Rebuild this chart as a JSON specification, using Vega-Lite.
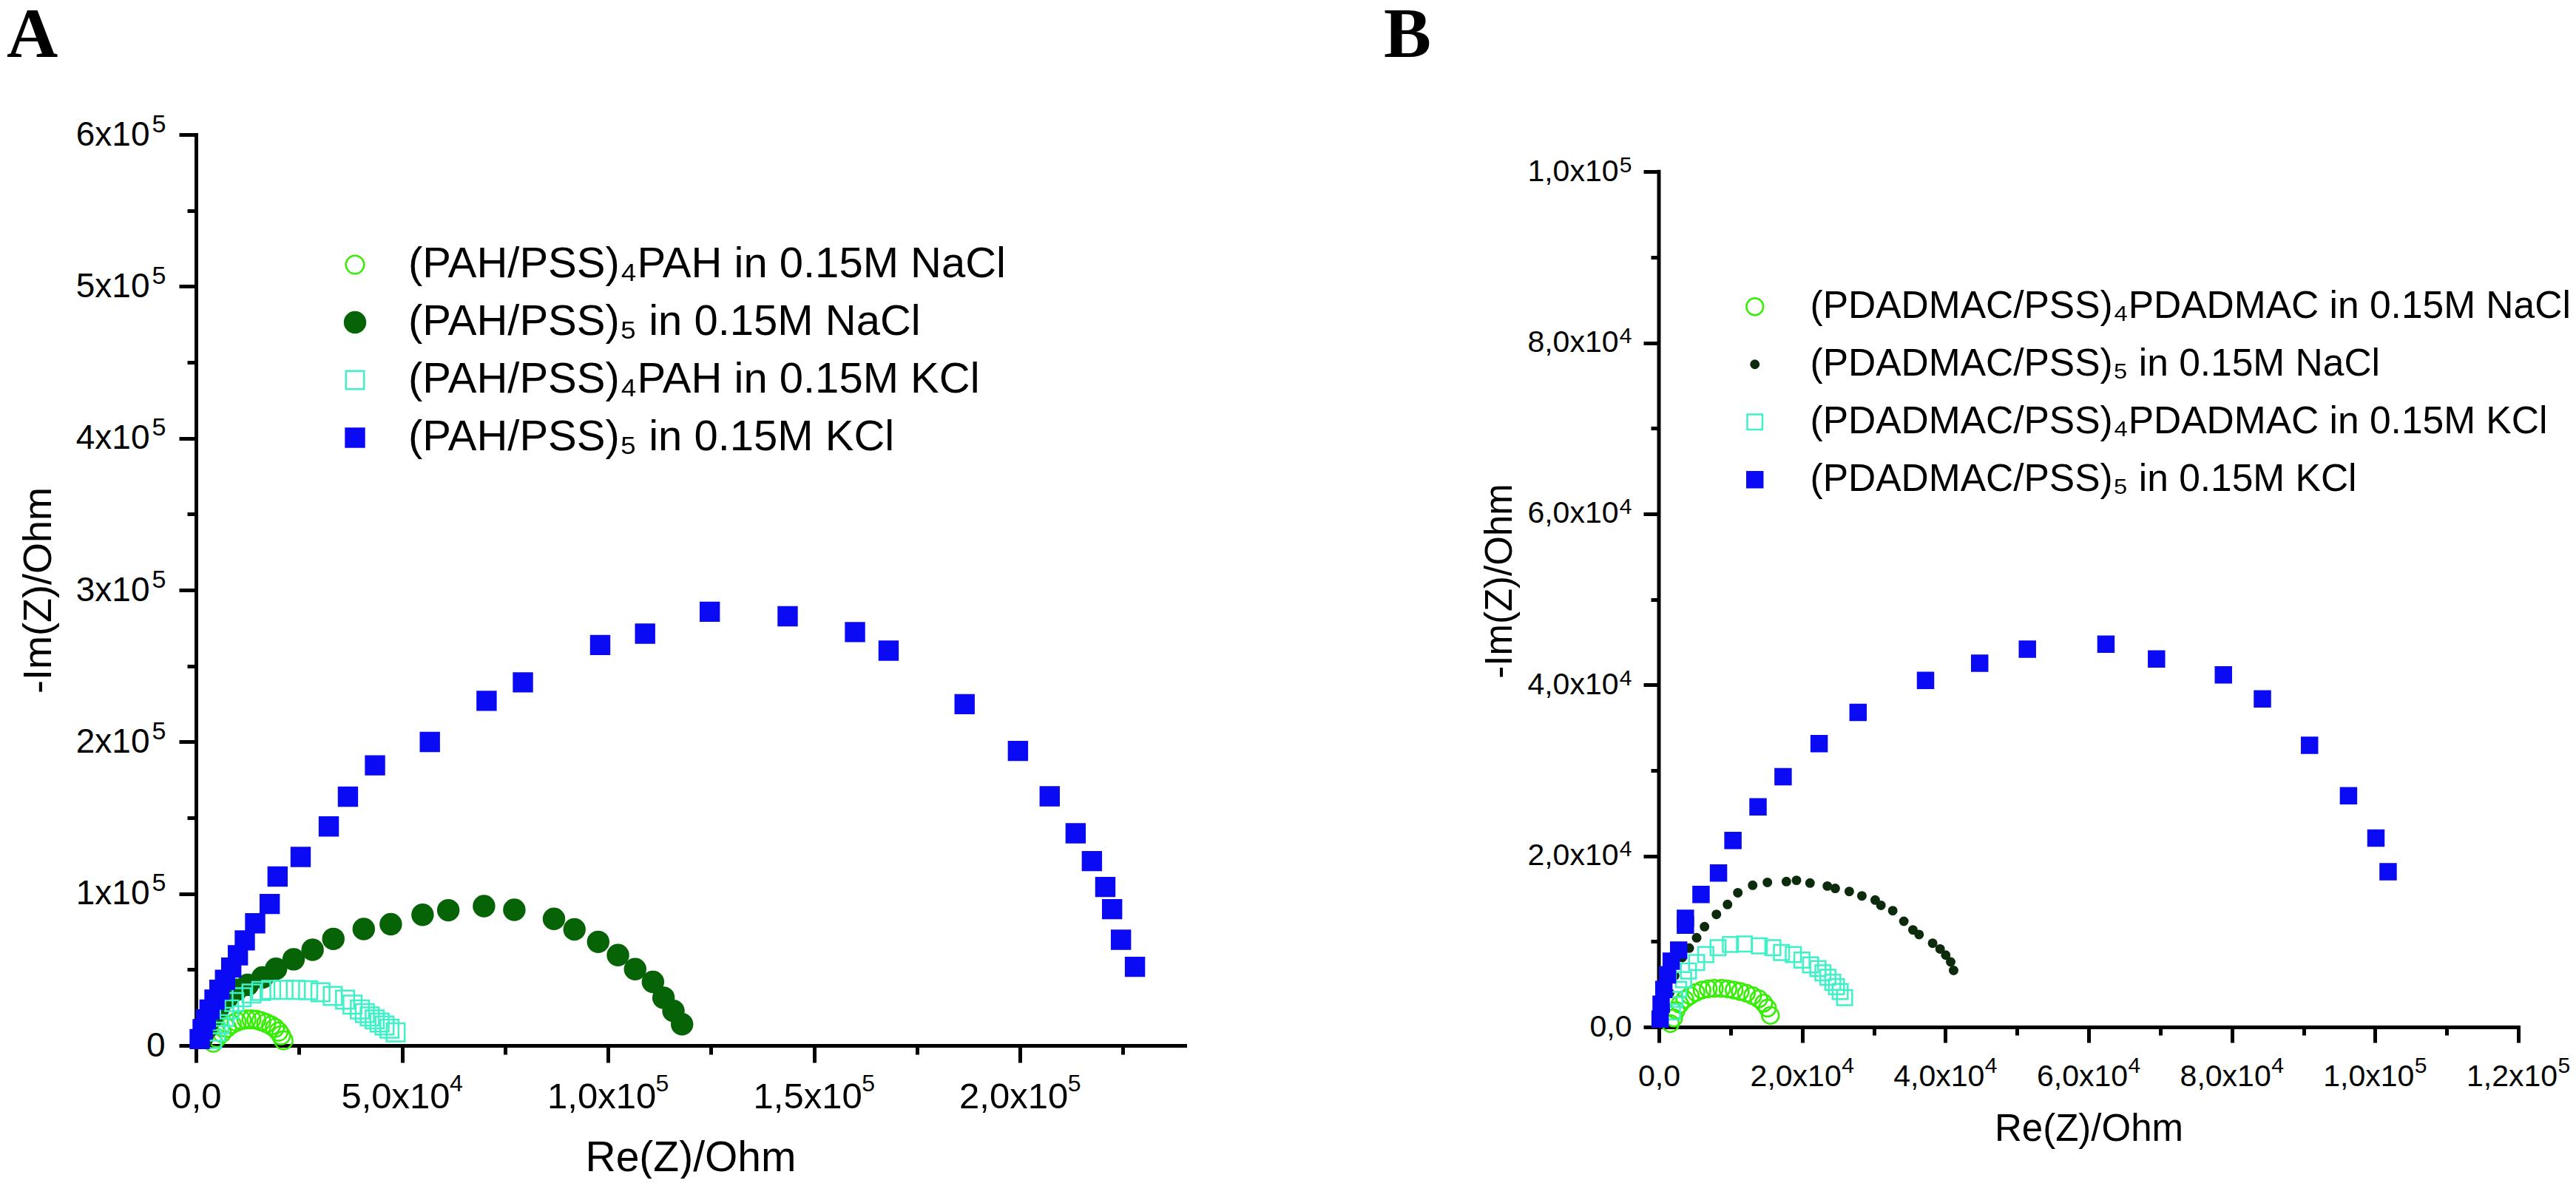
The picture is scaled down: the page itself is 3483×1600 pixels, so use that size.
{
  "$schema": "https://vega.github.io/schema/vega-lite/v6.json",
  "background": "white",
  "padding": {"left": 9, "top": 0, "right": 0, "bottom": 0},
  "config": {
    "view": {"stroke": null},
    "font": "Liberation Sans",
    "axis": {"grid": false, "domainColor": "black", "domainWidth": 5, "domainCap": "square", "tickColor": "black", "tickWidth": 5, "labelColor": "black", "titleColor": "black", "labelFont": "Liberation Sans", "titleFont": "Liberation Sans", "titleFontWeight": "normal", "labelFlush": false, "labelOverlap": false},
    "legend": {"padding": 0, "labelColor": "black", "labelFont": "Liberation Sans", "labelLimit": 3000, "symbolStrokeWidth": 2.5}
  },
  "resolve": {
    "scale": {"shape": "independent", "fill": "independent", "stroke": "independent", "size": "independent"},
    "legend": {"shape": "independent", "fill": "independent", "stroke": "independent", "size": "independent"}
  },
  "datasets": {
    "a": [
      {"s":"(PAH/PSS)\u2084PAH in 0.15M NaCl","re":4180,"im":1800},
      {"s":"(PAH/PSS)\u2084PAH in 0.15M NaCl","re":5080,"im":5020},
      {"s":"(PAH/PSS)\u2084PAH in 0.15M NaCl","re":6280,"im":8280},
      {"s":"(PAH/PSS)\u2084PAH in 0.15M NaCl","re":7480,"im":11540},
      {"s":"(PAH/PSS)\u2084PAH in 0.15M NaCl","re":8670,"im":13980},
      {"s":"(PAH/PSS)\u2084PAH in 0.15M NaCl","re":9870,"im":15590},
      {"s":"(PAH/PSS)\u2084PAH in 0.15M NaCl","re":11070,"im":16710},
      {"s":"(PAH/PSS)\u2084PAH in 0.15M NaCl","re":12260,"im":17200},
      {"s":"(PAH/PSS)\u2084PAH in 0.15M NaCl","re":13460,"im":17200},
      {"s":"(PAH/PSS)\u2084PAH in 0.15M NaCl","re":14660,"im":16900},
      {"s":"(PAH/PSS)\u2084PAH in 0.15M NaCl","re":15850,"im":15930},
      {"s":"(PAH/PSS)\u2084PAH in 0.15M NaCl","re":17050,"im":14760},
      {"s":"(PAH/PSS)\u2084PAH in 0.15M NaCl","re":18250,"im":13150},
      {"s":"(PAH/PSS)\u2084PAH in 0.15M NaCl","re":19150,"im":11540},
      {"s":"(PAH/PSS)\u2084PAH in 0.15M NaCl","re":20040,"im":9110},
      {"s":"(PAH/PSS)\u2084PAH in 0.15M NaCl","re":20640,"im":6660},
      {"s":"(PAH/PSS)\u2084PAH in 0.15M NaCl","re":21240,"im":3410},
      {"s":"(PAH/PSS)\u2085 in 0.15M NaCl","re":1500,"im":5000},
      {"s":"(PAH/PSS)\u2085 in 0.15M NaCl","re":2500,"im":11000},
      {"s":"(PAH/PSS)\u2085 in 0.15M NaCl","re":3800,"im":18000},
      {"s":"(PAH/PSS)\u2085 in 0.15M NaCl","re":5500,"im":25000},
      {"s":"(PAH/PSS)\u2085 in 0.15M NaCl","re":7500,"im":31000},
      {"s":"(PAH/PSS)\u2085 in 0.15M NaCl","re":9870,"im":36700},
      {"s":"(PAH/PSS)\u2085 in 0.15M NaCl","re":12560,"im":39940},
      {"s":"(PAH/PSS)\u2085 in 0.15M NaCl","re":16150,"im":44800},
      {"s":"(PAH/PSS)\u2085 in 0.15M NaCl","re":19430,"im":50500},
      {"s":"(PAH/PSS)\u2085 in 0.15M NaCl","re":23700,"im":56800},
      {"s":"(PAH/PSS)\u2085 in 0.15M NaCl","re":28300,"im":63100},
      {"s":"(PAH/PSS)\u2085 in 0.15M NaCl","re":33340,"im":70200},
      {"s":"(PAH/PSS)\u2085 in 0.15M NaCl","re":40710,"im":76700},
      {"s":"(PAH/PSS)\u2085 in 0.15M NaCl","re":47280,"im":79900},
      {"s":"(PAH/PSS)\u2085 in 0.15M NaCl","re":55000,"im":86100},
      {"s":"(PAH/PSS)\u2085 in 0.15M NaCl","re":61240,"im":89080},
      {"s":"(PAH/PSS)\u2085 in 0.15M NaCl","re":69900,"im":91810},
      {"s":"(PAH/PSS)\u2085 in 0.15M NaCl","re":77260,"im":89350},
      {"s":"(PAH/PSS)\u2085 in 0.15M NaCl","re":86880,"im":83380},
      {"s":"(PAH/PSS)\u2085 in 0.15M NaCl","re":91850,"im":76430},
      {"s":"(PAH/PSS)\u2085 in 0.15M NaCl","re":97620,"im":68250},
      {"s":"(PAH/PSS)\u2085 in 0.15M NaCl","re":102420,"im":59510},
      {"s":"(PAH/PSS)\u2085 in 0.15M NaCl","re":106590,"im":50320},
      {"s":"(PAH/PSS)\u2085 in 0.15M NaCl","re":110910,"im":41890},
      {"s":"(PAH/PSS)\u2085 in 0.15M NaCl","re":113480,"im":31470},
      {"s":"(PAH/PSS)\u2085 in 0.15M NaCl","re":115880,"im":22750},
      {"s":"(PAH/PSS)\u2085 in 0.15M NaCl","re":117970,"im":14030},
      {"s":"(PAH/PSS)\u2084PAH in 0.15M KCl","re":3890,"im":4240},
      {"s":"(PAH/PSS)\u2084PAH in 0.15M KCl","re":4790,"im":9110},
      {"s":"(PAH/PSS)\u2084PAH in 0.15M KCl","re":5690,"im":13980},
      {"s":"(PAH/PSS)\u2084PAH in 0.15M KCl","re":6870,"im":18850},
      {"s":"(PAH/PSS)\u2084PAH in 0.15M KCl","re":8080,"im":23720},
      {"s":"(PAH/PSS)\u2084PAH in 0.15M KCl","re":9280,"im":28590},
      {"s":"(PAH/PSS)\u2084PAH in 0.15M KCl","re":11070,"im":31810},
      {"s":"(PAH/PSS)\u2084PAH in 0.15M KCl","re":13460,"im":34240},
      {"s":"(PAH/PSS)\u2084PAH in 0.15M KCl","re":15850,"im":35900},
      {"s":"(PAH/PSS)\u2084PAH in 0.15M KCl","re":18250,"im":36700},
      {"s":"(PAH/PSS)\u2084PAH in 0.15M KCl","re":21230,"im":36700},
      {"s":"(PAH/PSS)\u2084PAH in 0.15M KCl","re":24230,"im":36700},
      {"s":"(PAH/PSS)\u2084PAH in 0.15M KCl","re":27220,"im":36380},
      {"s":"(PAH/PSS)\u2084PAH in 0.15M KCl","re":30210,"im":35070},
      {"s":"(PAH/PSS)\u2084PAH in 0.15M KCl","re":33200,"im":32640},
      {"s":"(PAH/PSS)\u2084PAH in 0.15M KCl","re":36190,"im":30200},
      {"s":"(PAH/PSS)\u2084PAH in 0.15M KCl","re":37990,"im":26960},
      {"s":"(PAH/PSS)\u2084PAH in 0.15M KCl","re":39780,"im":23720},
      {"s":"(PAH/PSS)\u2084PAH in 0.15M KCl","re":40970,"im":21290},
      {"s":"(PAH/PSS)\u2084PAH in 0.15M KCl","re":42170,"im":19150},
      {"s":"(PAH/PSS)\u2084PAH in 0.15M KCl","re":43370,"im":17200},
      {"s":"(PAH/PSS)\u2084PAH in 0.15M KCl","re":44560,"im":15100},
      {"s":"(PAH/PSS)\u2084PAH in 0.15M KCl","re":45760,"im":13150},
      {"s":"(PAH/PSS)\u2084PAH in 0.15M KCl","re":46960,"im":11060},
      {"s":"(PAH/PSS)\u2084PAH in 0.15M KCl","re":48460,"im":8620},
      {"s":"(PAH/PSS)\u2085 in 0.15M KCl","re":900,"im":4200},
      {"s":"(PAH/PSS)\u2085 in 0.15M KCl","re":1620,"im":10700},
      {"s":"(PAH/PSS)\u2085 in 0.15M KCl","re":2390,"im":17200},
      {"s":"(PAH/PSS)\u2085 in 0.15M KCl","re":3290,"im":23700},
      {"s":"(PAH/PSS)\u2085 in 0.15M KCl","re":4490,"im":30200},
      {"s":"(PAH/PSS)\u2085 in 0.15M KCl","re":5690,"im":36700},
      {"s":"(PAH/PSS)\u2085 in 0.15M KCl","re":7050,"im":43200},
      {"s":"(PAH/PSS)\u2085 in 0.15M KCl","re":8560,"im":51300},
      {"s":"(PAH/PSS)\u2085 in 0.15M KCl","re":10170,"im":59400},
      {"s":"(PAH/PSS)\u2085 in 0.15M KCl","re":11850,"im":69200},
      {"s":"(PAH/PSS)\u2085 in 0.15M KCl","re":14360,"im":80500},
      {"s":"(PAH/PSS)\u2085 in 0.15M KCl","re":17890,"im":93200},
      {"s":"(PAH/PSS)\u2085 in 0.15M KCl","re":19800,"im":111300},
      {"s":"(PAH/PSS)\u2085 in 0.15M KCl","re":25400,"im":124200},
      {"s":"(PAH/PSS)\u2085 in 0.15M KCl","re":32230,"im":144300},
      {"s":"(PAH/PSS)\u2085 in 0.15M KCl","re":36880,"im":163900},
      {"s":"(PAH/PSS)\u2085 in 0.15M KCl","re":43450,"im":184500},
      {"s":"(PAH/PSS)\u2085 in 0.15M KCl","re":56760,"im":199950},
      {"s":"(PAH/PSS)\u2085 in 0.15M KCl","re":70530,"im":227000},
      {"s":"(PAH/PSS)\u2085 in 0.15M KCl","re":79350,"im":239200},
      {"s":"(PAH/PSS)\u2085 in 0.15M KCl","re":98100,"im":263800},
      {"s":"(PAH/PSS)\u2085 in 0.15M KCl","re":109000,"im":271300},
      {"s":"(PAH/PSS)\u2085 in 0.15M KCl","re":124700,"im":285700},
      {"s":"(PAH/PSS)\u2085 in 0.15M KCl","re":143600,"im":282700},
      {"s":"(PAH/PSS)\u2085 in 0.15M KCl","re":159950,"im":272300},
      {"s":"(PAH/PSS)\u2085 in 0.15M KCl","re":168100,"im":260100},
      {"s":"(PAH/PSS)\u2085 in 0.15M KCl","re":186550,"im":224800},
      {"s":"(PAH/PSS)\u2085 in 0.15M KCl","re":199500,"im":194000},
      {"s":"(PAH/PSS)\u2085 in 0.15M KCl","re":207200,"im":164150},
      {"s":"(PAH/PSS)\u2085 in 0.15M KCl","re":213500,"im":139800},
      {"s":"(PAH/PSS)\u2085 in 0.15M KCl","re":217450,"im":121450},
      {"s":"(PAH/PSS)\u2085 in 0.15M KCl","re":220700,"im":104400},
      {"s":"(PAH/PSS)\u2085 in 0.15M KCl","re":222350,"im":89800},
      {"s":"(PAH/PSS)\u2085 in 0.15M KCl","re":224500,"im":69650},
      {"s":"(PAH/PSS)\u2085 in 0.15M KCl","re":227900,"im":51800}
    ],
    "b": [
      {"s":"(PDADMAC/PSS)\u2084PDADMAC in 0.15M NaCl","re":1600,"im":400},
      {"s":"(PDADMAC/PSS)\u2084PDADMAC in 0.15M NaCl","re":2070,"im":1060},
      {"s":"(PDADMAC/PSS)\u2084PDADMAC in 0.15M NaCl","re":2410,"im":1930},
      {"s":"(PDADMAC/PSS)\u2084PDADMAC in 0.15M NaCl","re":2930,"im":2650},
      {"s":"(PDADMAC/PSS)\u2084PDADMAC in 0.15M NaCl","re":3620,"im":3230},
      {"s":"(PDADMAC/PSS)\u2084PDADMAC in 0.15M NaCl","re":4370,"im":3660},
      {"s":"(PDADMAC/PSS)\u2084PDADMAC in 0.15M NaCl","re":5170,"im":4030},
      {"s":"(PDADMAC/PSS)\u2084PDADMAC in 0.15M NaCl","re":6020,"im":4320},
      {"s":"(PDADMAC/PSS)\u2084PDADMAC in 0.15M NaCl","re":6890,"im":4460},
      {"s":"(PDADMAC/PSS)\u2084PDADMAC in 0.15M NaCl","re":7750,"im":4520},
      {"s":"(PDADMAC/PSS)\u2084PDADMAC in 0.15M NaCl","re":8780,"im":4520},
      {"s":"(PDADMAC/PSS)\u2084PDADMAC in 0.15M NaCl","re":9640,"im":4440},
      {"s":"(PDADMAC/PSS)\u2084PDADMAC in 0.15M NaCl","re":10500,"im":4320},
      {"s":"(PDADMAC/PSS)\u2084PDADMAC in 0.15M NaCl","re":11360,"im":4150},
      {"s":"(PDADMAC/PSS)\u2084PDADMAC in 0.15M NaCl","re":12220,"im":3940},
      {"s":"(PDADMAC/PSS)\u2084PDADMAC in 0.15M NaCl","re":13090,"im":3660},
      {"s":"(PDADMAC/PSS)\u2084PDADMAC in 0.15M NaCl","re":13950,"im":3290},
      {"s":"(PDADMAC/PSS)\u2084PDADMAC in 0.15M NaCl","re":14640,"im":2790},
      {"s":"(PDADMAC/PSS)\u2084PDADMAC in 0.15M NaCl","re":15150,"im":2210},
      {"s":"(PDADMAC/PSS)\u2084PDADMAC in 0.15M NaCl","re":15570,"im":1350},
      {"s":"(PDADMAC/PSS)\u2085 in 0.15M NaCl","re":900,"im":2000},
      {"s":"(PDADMAC/PSS)\u2085 in 0.15M NaCl","re":1500,"im":4000},
      {"s":"(PDADMAC/PSS)\u2085 in 0.15M NaCl","re":2200,"im":6000},
      {"s":"(PDADMAC/PSS)\u2085 in 0.15M NaCl","re":3270,"im":8130},
      {"s":"(PDADMAC/PSS)\u2085 in 0.15M NaCl","re":4240,"im":9220},
      {"s":"(PDADMAC/PSS)\u2085 in 0.15M NaCl","re":5270,"im":10430},
      {"s":"(PDADMAC/PSS)\u2085 in 0.15M NaCl","re":6370,"im":11730},
      {"s":"(PDADMAC/PSS)\u2085 in 0.15M NaCl","re":8030,"im":13170},
      {"s":"(PDADMAC/PSS)\u2085 in 0.15M NaCl","re":9580,"im":14320},
      {"s":"(PDADMAC/PSS)\u2085 in 0.15M NaCl","re":11020,"im":15700},
      {"s":"(PDADMAC/PSS)\u2085 in 0.15M NaCl","re":13090,"im":16570},
      {"s":"(PDADMAC/PSS)\u2085 in 0.15M NaCl","re":15150,"im":16910},
      {"s":"(PDADMAC/PSS)\u2085 in 0.15M NaCl","re":17800,"im":17000},
      {"s":"(PDADMAC/PSS)\u2085 in 0.15M NaCl","re":19210,"im":17150},
      {"s":"(PDADMAC/PSS)\u2085 in 0.15M NaCl","re":21100,"im":16830},
      {"s":"(PDADMAC/PSS)\u2085 in 0.15M NaCl","re":23520,"im":16480},
      {"s":"(PDADMAC/PSS)\u2085 in 0.15M NaCl","re":24620,"im":16200},
      {"s":"(PDADMAC/PSS)\u2085 in 0.15M NaCl","re":26580,"im":15850},
      {"s":"(PDADMAC/PSS)\u2085 in 0.15M NaCl","re":28340,"im":15330},
      {"s":"(PDADMAC/PSS)\u2085 in 0.15M NaCl","re":30200,"im":14840},
      {"s":"(PDADMAC/PSS)\u2085 in 0.15M NaCl","re":31000,"im":14230},
      {"s":"(PDADMAC/PSS)\u2085 in 0.15M NaCl","re":32650,"im":13600},
      {"s":"(PDADMAC/PSS)\u2085 in 0.15M NaCl","re":34200,"im":12360},
      {"s":"(PDADMAC/PSS)\u2085 in 0.15M NaCl","re":35470,"im":11350},
      {"s":"(PDADMAC/PSS)\u2085 in 0.15M NaCl","re":36330,"im":10810},
      {"s":"(PDADMAC/PSS)\u2085 in 0.15M NaCl","re":38220,"im":9800},
      {"s":"(PDADMAC/PSS)\u2085 in 0.15M NaCl","re":39260,"im":9130},
      {"s":"(PDADMAC/PSS)\u2085 in 0.15M NaCl","re":40050,"im":8410},
      {"s":"(PDADMAC/PSS)\u2085 in 0.15M NaCl","re":40740,"im":7610},
      {"s":"(PDADMAC/PSS)\u2085 in 0.15M NaCl","re":41150,"im":6620},
      {"s":"(PDADMAC/PSS)\u2084PDADMAC in 0.15M KCl","re":1890,"im":1780},
      {"s":"(PDADMAC/PSS)\u2084PDADMAC in 0.15M KCl","re":2240,"im":3230},
      {"s":"(PDADMAC/PSS)\u2084PDADMAC in 0.15M KCl","re":2760,"im":4380},
      {"s":"(PDADMAC/PSS)\u2084PDADMAC in 0.15M KCl","re":3440,"im":5530},
      {"s":"(PDADMAC/PSS)\u2084PDADMAC in 0.15M KCl","re":4130,"im":6540},
      {"s":"(PDADMAC/PSS)\u2084PDADMAC in 0.15M KCl","re":5270,"im":7550},
      {"s":"(PDADMAC/PSS)\u2084PDADMAC in 0.15M KCl","re":6540,"im":8470},
      {"s":"(PDADMAC/PSS)\u2084PDADMAC in 0.15M KCl","re":8260,"im":9280},
      {"s":"(PDADMAC/PSS)\u2084PDADMAC in 0.15M KCl","re":9990,"im":9650},
      {"s":"(PDADMAC/PSS)\u2084PDADMAC in 0.15M KCl","re":11950,"im":9710},
      {"s":"(PDADMAC/PSS)\u2084PDADMAC in 0.15M KCl","re":14020,"im":9480},
      {"s":"(PDADMAC/PSS)\u2084PDADMAC in 0.15M KCl","re":15910,"im":9280},
      {"s":"(PDADMAC/PSS)\u2084PDADMAC in 0.15M KCl","re":17120,"im":8700},
      {"s":"(PDADMAC/PSS)\u2084PDADMAC in 0.15M KCl","re":18770,"im":8470},
      {"s":"(PDADMAC/PSS)\u2084PDADMAC in 0.15M KCl","re":19970,"im":7830},
      {"s":"(PDADMAC/PSS)\u2084PDADMAC in 0.15M KCl","re":21180,"im":7260},
      {"s":"(PDADMAC/PSS)\u2084PDADMAC in 0.15M KCl","re":22210,"im":6830},
      {"s":"(PDADMAC/PSS)\u2084PDADMAC in 0.15M KCl","re":22900,"im":6340},
      {"s":"(PDADMAC/PSS)\u2084PDADMAC in 0.15M KCl","re":23590,"im":5820},
      {"s":"(PDADMAC/PSS)\u2084PDADMAC in 0.15M KCl","re":24280,"im":5240},
      {"s":"(PDADMAC/PSS)\u2084PDADMAC in 0.15M KCl","re":24790,"im":4720},
      {"s":"(PDADMAC/PSS)\u2084PDADMAC in 0.15M KCl","re":25310,"im":4150},
      {"s":"(PDADMAC/PSS)\u2084PDADMAC in 0.15M KCl","re":25930,"im":3430},
      {"s":"(PDADMAC/PSS)\u2085 in 0.15M KCl","re":170,"im":920},
      {"s":"(PDADMAC/PSS)\u2085 in 0.15M KCl","re":310,"im":2650},
      {"s":"(PDADMAC/PSS)\u2085 in 0.15M KCl","re":690,"im":4380},
      {"s":"(PDADMAC/PSS)\u2085 in 0.15M KCl","re":1200,"im":6100},
      {"s":"(PDADMAC/PSS)\u2085 in 0.15M KCl","re":1720,"im":7700},
      {"s":"(PDADMAC/PSS)\u2085 in 0.15M KCl","re":2760,"im":9000},
      {"s":"(PDADMAC/PSS)\u2085 in 0.15M KCl","re":3700,"im":11900},
      {"s":"(PDADMAC/PSS)\u2085 in 0.15M KCl","re":3700,"im":12700},
      {"s":"(PDADMAC/PSS)\u2085 in 0.15M KCl","re":5880,"im":15500},
      {"s":"(PDADMAC/PSS)\u2085 in 0.15M KCl","re":8320,"im":18010},
      {"s":"(PDADMAC/PSS)\u2085 in 0.15M KCl","re":10340,"im":21810},
      {"s":"(PDADMAC/PSS)\u2085 in 0.15M KCl","re":13840,"im":25750},
      {"s":"(PDADMAC/PSS)\u2085 in 0.15M KCl","re":17340,"im":29260},
      {"s":"(PDADMAC/PSS)\u2085 in 0.15M KCl","re":22370,"im":33140},
      {"s":"(PDADMAC/PSS)\u2085 in 0.15M KCl","re":27810,"im":36790},
      {"s":"(PDADMAC/PSS)\u2085 in 0.15M KCl","re":37230,"im":40520},
      {"s":"(PDADMAC/PSS)\u2085 in 0.15M KCl","re":44790,"im":42540},
      {"s":"(PDADMAC/PSS)\u2085 in 0.15M KCl","re":51450,"im":44180},
      {"s":"(PDADMAC/PSS)\u2085 in 0.15M KCl","re":62420,"im":44760},
      {"s":"(PDADMAC/PSS)\u2085 in 0.15M KCl","re":69480,"im":43030},
      {"s":"(PDADMAC/PSS)\u2085 in 0.15M KCl","re":78820,"im":41170},
      {"s":"(PDADMAC/PSS)\u2085 in 0.15M KCl","re":84270,"im":38370},
      {"s":"(PDADMAC/PSS)\u2085 in 0.15M KCl","re":90850,"im":32930},
      {"s":"(PDADMAC/PSS)\u2085 in 0.15M KCl","re":96290,"im":27040},
      {"s":"(PDADMAC/PSS)\u2085 in 0.15M KCl","re":100120,"im":22090},
      {"s":"(PDADMAC/PSS)\u2085 in 0.15M KCl","re":101820,"im":18150}
    ]
  },
  "concat": [
    {
      "title": {"text": "A", "anchor": "start", "frame": "group", "dx": -256, "offset": 54, "font": "Liberation Serif", "fontWeight": "bold", "fontSize": 96, "color": "black"},
      "width": 1337,
      "height": 1232,
      "data": {"name": "a"},
      "layer": [
        {
          "mark": {"type": "point", "strokeWidth": 2.5, "opacity": 1},
          "encoding": {
            "x": {"field": "re", "type": "quantitative", "scale": {"domain": [0, 240000], "nice": false, "zero": true},
              "axis": {"orient": "bottom", "values": [0, 50000, 100000, 150000, 200000], "tickSize": 23, "labelFontSize": 49, "labelPadding": 22, "labelOffset": -9,
                "labelExpr": "datum.value == 0 ? '' : datum.value < 100000 ? replace(format(datum.value/10000, '.1f'), '.', ',') + 'x10' : replace(format(datum.value/100000, '.1f'), '.', ',') + 'x10'",
                "title": "Re(Z)/Ohm", "titleFontSize": 57, "titlePadding": 30}},
            "y": {"field": "im", "type": "quantitative", "scale": {"domain": [0, 600000], "nice": false, "zero": true},
              "axis": {"orient": "left", "values": [0, 100000, 200000, 300000, 400000, 500000, 600000], "tickSize": 23, "labelFontSize": 46, "labelPadding": 40,
                "labelExpr": "datum.value == 0 ? '' : (datum.value/100000) + 'x10'",
                "title": "-Im(Z)/Ohm", "titleFontSize": 54, "titlePadding": 23}},
            "shape": {"field": "s", "type": "nominal",
              "scale": {"domain": ["(PAH/PSS)\u2084PAH in 0.15M NaCl", "(PAH/PSS)\u2085 in 0.15M NaCl", "(PAH/PSS)\u2084PAH in 0.15M KCl", "(PAH/PSS)\u2085 in 0.15M KCl"], "range": ["circle", "circle", "square", "square"]},
              "legend": {"orient": "none", "legendX": 186, "legendY": 147, "title": null, "labelFontSize": 58, "rowPadding": 20, "labelOffset": 43}},
            "fill": {"field": "s", "type": "nominal",
              "scale": {"domain": ["(PAH/PSS)\u2084PAH in 0.15M NaCl", "(PAH/PSS)\u2085 in 0.15M NaCl", "(PAH/PSS)\u2084PAH in 0.15M KCl", "(PAH/PSS)\u2085 in 0.15M KCl"], "range": ["transparent", "#066306", "transparent", "#0a0af5"]}},
            "stroke": {"field": "s", "type": "nominal",
              "scale": {"domain": ["(PAH/PSS)\u2084PAH in 0.15M NaCl", "(PAH/PSS)\u2085 in 0.15M NaCl", "(PAH/PSS)\u2084PAH in 0.15M KCl", "(PAH/PSS)\u2085 in 0.15M KCl"], "range": ["#33ee00", "#066306", "#40f0c8", "#0a0af5"]}},
            "size": {"field": "s", "type": "nominal",
              "scale": {"type": "ordinal", "domain": ["(PAH/PSS)\u2084PAH in 0.15M NaCl", "(PAH/PSS)\u2085 in 0.15M NaCl", "(PAH/PSS)\u2084PAH in 0.15M KCl", "(PAH/PSS)\u2085 in 0.15M KCl"], "range": [600, 780, 600, 620]}}
          }
        },
        {
          "mark": {"type": "point", "opacity": 0},
          "encoding": {
            "x": {"field": "re", "type": "quantitative", "axis": {"orient": "bottom", "values": [0, 25000, 75000, 125000, 175000, 225000], "tickSize": 12, "labelFontSize": 49, "labelPadding": 33, "labelExpr": "datum.value == 0 ? '0,0' : ''", "domain": false, "title": null}},
            "y": {"field": "im", "type": "quantitative", "axis": {"orient": "left", "values": [0, 50000, 150000, 250000, 350000, 450000, 550000], "tickSize": 12, "labelFontSize": 46, "labelPadding": 30, "labelExpr": "datum.value == 0 ? '0' : ''", "domain": false, "title": null}}
          }
        },
        {
          "mark": {"type": "point", "opacity": 0},
          "encoding": {
            "x": {"field": "re", "type": "quantitative", "axis": {"orient": "bottom", "values": [0, 50000, 100000, 150000, 200000], "ticks": false, "tickSize": 0, "labelFontSize": 32, "labelPadding": 36, "labelAlign": "left", "labelOffset": 64, "labelExpr": "datum.value == 0 ? '' : datum.value < 100000 ? '4' : '5'", "domain": false, "title": null}},
            "y": {"field": "im", "type": "quantitative", "axis": {"orient": "left", "values": [0, 100000, 200000, 300000, 400000, 500000, 600000], "ticks": false, "tickSize": 0, "labelFontSize": 34, "labelPadding": 41, "labelOffset": -14, "labelExpr": "datum.value == 0 ? '' : '5'", "domain": false, "title": null}}
          }
        }
      ],
      "resolve": {"axis": {"x": "independent", "y": "independent"}}
    },
    {
      "title": {"text": "B", "anchor": "start", "frame": "group", "dx": -372, "offset": 85, "font": "Liberation Serif", "fontWeight": "bold", "fontSize": 96, "color": "black"},
      "width": 1162,
      "height": 1207,
      "data": {"name": "b"},
      "layer": [
        {
          "data": {"values": [{}]},
          "mark": {"type": "rule", "strokeWidth": 5, "color": "black", "strokeCap": "square"},
          "encoding": {"x": {"datum": 0, "type": "quantitative", "axis": null}, "y": {"datum": 0, "type": "quantitative", "axis": null}, "y2": {"datum": 100000}}
        },
        {
          "mark": {"type": "point", "strokeWidth": 2.5, "opacity": 1},
          "encoding": {
            "x": {"field": "re", "type": "quantitative", "scale": {"domain": [0, 120000], "nice": false, "zero": true},
              "axis": {"orient": "bottom", "values": [0, 20000, 40000, 60000, 80000, 100000, 120000], "tickSize": 21, "labelFontSize": 41, "labelPadding": 26, "labelOffset": -9,
                "labelExpr": "datum.value == 0 ? '' : datum.value < 100000 ? replace(format(datum.value/10000, '.1f'), '.', ',') + 'x10' : replace(format(datum.value/100000, '.1f'), '.', ',') + 'x10'",
                "title": "Re(Z)/Ohm", "titleFontSize": 51, "titlePadding": 26}},
            "y": {"field": "im", "type": "quantitative", "scale": {"domain": [0, 104347], "nice": false, "zero": true},
              "axis": {"orient": "left", "values": [0, 20000, 40000, 60000, 80000, 100000], "tickSize": 21, "labelFontSize": 41, "labelPadding": 34, "domain": false,
                "labelExpr": "datum.value == 0 ? '' : datum.value < 100000 ? replace(format(datum.value/10000, '.1f'), '.', ',') + 'x10' : replace(format(datum.value/100000, '.1f'), '.', ',') + 'x10'",
                "title": "-Im(Z)/Ohm", "titleFontSize": 51, "titlePadding": 10}},
            "shape": {"field": "s", "type": "nominal",
              "scale": {"domain": ["(PDADMAC/PSS)\u2084PDADMAC in 0.15M NaCl", "(PDADMAC/PSS)\u2085 in 0.15M NaCl", "(PDADMAC/PSS)\u2084PDADMAC in 0.15M KCl", "(PDADMAC/PSS)\u2085 in 0.15M KCl"], "range": ["circle", "circle", "square", "square"]},
              "legend": {"orient": "none", "legendX": 104, "legendY": 207, "title": null, "labelFontSize": 51.5, "rowPadding": 25, "labelOffset": 49}},
            "fill": {"field": "s", "type": "nominal",
              "scale": {"domain": ["(PDADMAC/PSS)\u2084PDADMAC in 0.15M NaCl", "(PDADMAC/PSS)\u2085 in 0.15M NaCl", "(PDADMAC/PSS)\u2084PDADMAC in 0.15M KCl", "(PDADMAC/PSS)\u2085 in 0.15M KCl"], "range": ["transparent", "#0d2b0d", "transparent", "#0a0af5"]}},
            "stroke": {"field": "s", "type": "nominal",
              "scale": {"domain": ["(PDADMAC/PSS)\u2084PDADMAC in 0.15M NaCl", "(PDADMAC/PSS)\u2085 in 0.15M NaCl", "(PDADMAC/PSS)\u2084PDADMAC in 0.15M KCl", "(PDADMAC/PSS)\u2085 in 0.15M KCl"], "range": ["#33ee00", "#0d2b0d", "#40f0c8", "#0a0af5"]}},
            "size": {"field": "s", "type": "nominal",
              "scale": {"type": "ordinal", "domain": ["(PDADMAC/PSS)\u2084PDADMAC in 0.15M NaCl", "(PDADMAC/PSS)\u2085 in 0.15M NaCl", "(PDADMAC/PSS)\u2084PDADMAC in 0.15M KCl", "(PDADMAC/PSS)\u2085 in 0.15M KCl"], "range": [520, 110, 420, 440]}}
          }
        },
        {
          "mark": {"type": "point", "opacity": 0},
          "encoding": {
            "x": {"field": "re", "type": "quantitative", "axis": {"orient": "bottom", "values": [0, 10000, 30000, 50000, 70000, 90000, 110000], "tickSize": 11, "labelFontSize": 41, "labelPadding": 36, "labelExpr": "datum.value == 0 ? '0,0' : ''", "domain": false, "title": null}},
            "y": {"field": "im", "type": "quantitative", "axis": {"orient": "left", "values": [0, 10000, 30000, 50000, 70000, 90000], "tickSize": 11, "labelFontSize": 41, "labelPadding": 26, "labelExpr": "datum.value == 0 ? '0,0' : ''", "domain": false, "title": null}}
          }
        },
        {
          "mark": {"type": "point", "opacity": 0},
          "encoding": {
            "x": {"field": "re", "type": "quantitative", "axis": {"orient": "bottom", "values": [0, 20000, 40000, 60000, 80000, 100000, 120000], "ticks": false, "tickSize": 0, "labelFontSize": 30, "labelPadding": 37, "labelAlign": "left", "labelOffset": 53, "labelExpr": "datum.value == 0 ? '' : datum.value < 100000 ? '4' : '5'", "domain": false, "title": null}},
            "y": {"field": "im", "type": "quantitative", "axis": {"orient": "left", "values": [0, 20000, 40000, 60000, 80000, 100000], "ticks": false, "tickSize": 0, "labelFontSize": 30, "labelPadding": 37, "labelOffset": -9, "labelExpr": "datum.value == 0 ? '' : datum.value < 100000 ? '4' : '5'", "domain": false, "title": null}}
          }
        }
      ],
      "resolve": {"axis": {"x": "independent", "y": "independent"}}
    }
  ],
  "columns": 2,
  "spacing": 269,
  "align": "none"
}
